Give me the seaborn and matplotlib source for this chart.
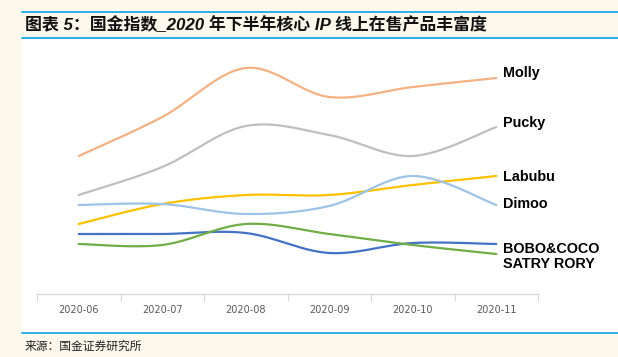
import numpy as np
import pandas as pd
import matplotlib.pyplot as plt
import matplotlib.patches as mpatches
from matplotlib.lines import Line2D
import seaborn as sns

sns.set_theme(style="white")
plt.rcParams["font.family"] = ["Liberation Sans", "Noto Sans CJK SC", "DejaVu Sans"]

# data (index level, arbitrary units)
months = ["2020-06", "2020-07", "2020-08", "2020-09", "2020-10", "2020-11"]
molly = [138, 177, 226, 197, 207, 216]
pucky = [99, 127, 168, 159, 138, 167]
labubu = [70, 90, 99, 99, 109, 118]
dimoo = [89, 90, 80, 88, 118, 89]
bobo_coco = [60, 60, 61, 41, 51, 50]
satry_rory = [50, 49, 70, 60, 49, 40]

series = {
    "Molly": molly,
    "Pucky": pucky,
    "Labubu": labubu,
    "Dimoo": dimoo,
    "BOBO&COCO": bobo_coco,
    "SATRY RORY": satry_rory,
}
colors = {
    "Molly": "#f4b183",
    "Pucky": "#bfbfbf",
    "Labubu": "#ffc000",
    "Dimoo": "#9dc3e6",
    "BOBO&COCO": "#4472c4",
    "SATRY RORY": "#70ad47",
}
# label nudges in points (dx, dy) so end labels don't collide
nudge = {
    "Molly": (5, 3.6),
    "Pucky": (5, 2.9),
    "Labubu": (5, -0.5),
    "Dimoo": (5, 0.7),
    "BOBO&COCO": (5, -3.6),
    "SATRY RORY": (5, -7.2),
}


def smooth(y, n=30):
    # Excel-style smoothed line: cubic Bezier between points (Catmull-Rom handles)
    x = np.arange(len(y), dtype=float)
    y = np.asarray(y, dtype=float)
    xs, ys = [], []
    for i in range(len(y) - 1):
        i0, i3 = max(i - 1, 0), min(i + 2, len(y) - 1)
        p0 = np.array([x[i], y[i]])
        p3 = np.array([x[i + 1], y[i + 1]])
        c1 = p0 + (p3 - np.array([x[i0], y[i0]])) / 6
        c2 = p3 - (np.array([x[i3], y[i3]]) - p0) / 6
        t = np.linspace(0, 1, n)[:, None]
        pts = (1 - t) ** 3 * p0 + 3 * (1 - t) ** 2 * t * c1 + 3 * (1 - t) * t ** 2 * c2 + t ** 3 * p3
        xs.extend(pts[:, 0])
        ys.extend(pts[:, 1])
    return xs, ys


fig = plt.figure(figsize=(6.18, 3.57), dpi=100)
fig.patch.set_facecolor("#fdf8ec")

# white panel + blue rules of the report layout
fig.patches.append(mpatches.Rectangle((22 / 618, 24 / 357), 1, 295 / 357,
                                      transform=fig.transFigure, facecolor="white",
                                      edgecolor="none", zorder=-1))
for yy in [1 - 12 / 357, 1 - 38 / 357, 1 - 333 / 357]:
    fig.add_artist(Line2D([22 / 618, 1], [yy, yy], transform=fig.transFigure,
                          color="#1ea7e8", linewidth=1.3))

ax = fig.add_axes([37 / 618, 1 - 294 / 357, 501 / 618, 244 / 357])
ax.set_zorder(2)
ax.set_facecolor("none")

for name, vals in series.items():
    sx, sy = smooth(vals)
    sns.lineplot(x=sx, y=sy, color=colors[name], linewidth=1.6, sort=False, ax=ax)
    ax.annotate(name, xy=(len(vals) - 1, vals[-1]), xytext=nudge[name],
                textcoords="offset points", ha="left", va="center",
                fontsize=10.4, fontweight="bold", color="black",
                family="Liberation Sans", annotation_clip=False)

ax.set_xlim(-0.5, len(months) - 0.5)
ax.set_ylim(0, 244)
ax.set_xticks(range(len(months)))
ax.set_xticklabels(months, fontsize=7, color="#595959", family="DejaVu Sans")
ax.set_xticks(np.arange(-0.5, len(months)), minor=True)
ax.tick_params(axis="x", which="major", bottom=False, length=0, pad=8)
ax.tick_params(axis="x", which="minor", bottom=True, length=5, width=0.8,
               color="#d9d9d9", direction="out")
ax.set_yticks([])
sns.despine(ax=ax, left=True, top=True, right=True)
ax.spines["bottom"].set_color("#d9d9d9")
ax.spines["bottom"].set_linewidth(1)
ax.grid(False)

fig.text(25 / 618, 1 - 25 / 357, "图表 5：国金指数_2020 年下半年核心 IP 线上在售产品丰富度",
         ha="left", va="center", fontsize=12.2, fontweight="bold", fontstyle="italic",
         color="#111111", family=["Liberation Sans", "Noto Sans CJK SC"])
fig.text(25 / 618, 1 - 346 / 357, "来源：国金证券研究所", ha="left", va="center",
         fontsize=8.5, color="#222222", family=["Noto Sans CJK SC", "DejaVu Sans"])

fig.savefig("out.png", dpi=100)
